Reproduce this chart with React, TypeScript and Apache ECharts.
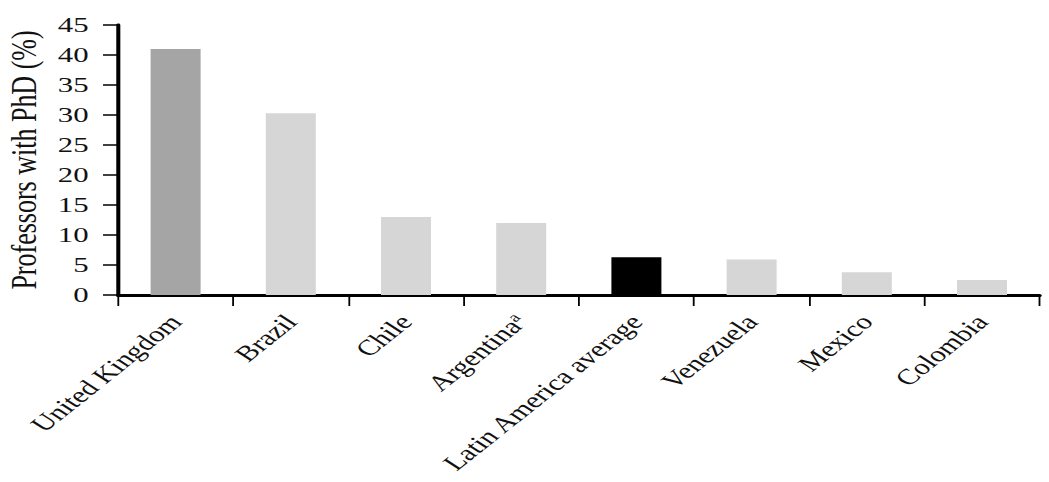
import React, { useEffect, useRef } from "react";
import * as echarts from "echarts";

const categories = [
  "United Kingdom",
  "Brazil",
  "Chile",
  "Argentina{sup|a}",
  "Latin America average",
  "Venezuela",
  "Mexico",
  "Colombia",
];
const values = [41, 30.3, 13, 12, 6.3, 5.9, 3.8, 2.5];
const barColors = ["#a5a5a5", "#d6d6d6", "#d6d6d6", "#d6d6d6", "#000000", "#d6d6d6", "#d6d6d6", "#d6d6d6"];
const yTicks = { min: 0, max: 45, interval: 5 };

const FONT = "Liberation Serif";
// The reference is horizontally stretched; draw at a narrower width and stretch.
const STRETCH = 1.4;
const INNER_W = 1049 / STRETCH;

export default function App() {
  const ref = useRef<HTMLDivElement>(null);
  useEffect(() => {
    document.body.style.margin = "0";
    const chart = echarts.init(ref.current!, null, { renderer: "svg" });
    chart.setOption({
      animation: false,
      backgroundColor: "#ffffff",
      grid: {
        left: 118 / STRETCH,
        right: 9 / STRETCH,
        top: 25,
        bottom: 187,
        containLabel: false,
        outerBoundsMode: "none",
      },
      xAxis: {
        type: "category",
        data: categories,
        boundaryGap: true,
        axisLine: { lineStyle: { color: "#000", width: 3 } },
        axisTick: { show: true, length: 11, lineStyle: { color: "#000", width: 1.3 } },
        axisLabel: {
          rotate: 48,
          interval: 0,
          margin: 23,
          color: "#111",
          fontFamily: FONT,
          fontSize: 22,
          rich: {
            sup: { fontSize: 14, verticalAlign: "top", padding: [0, 0, 9, 0], fontFamily: FONT, color: "#111" },
          },
        },
      },
      yAxis: {
        type: "value",
        min: yTicks.min,
        max: yTicks.max,
        interval: yTicks.interval,
        name: "Professors with PhD (%)",
        nameLocation: "middle",
        nameGap: 54,
        nameRotate: 90,
        nameTextStyle: { fontFamily: FONT, fontSize: 26, color: "#111" },
        axisLine: { show: true, lineStyle: { color: "#000", width: 2.9 } },
        axisTick: { show: true, length: 10.7, lineStyle: { color: "#000", width: 1.5 } },
        splitLine: { show: false },
        axisLabel: { margin: 21, color: "#111", fontFamily: FONT, fontSize: 22 },
      },
      series: [
        {
          type: "bar",
          data: values.map((v, i) => ({ value: v, itemStyle: { color: barColors[i] } })),
          barWidth: 50 / STRETCH,
        },
      ],
    });
    return () => chart.dispose();
  }, []);
  return (
    <div style={{ width: 1049, height: 482, overflow: "hidden" }}>
      <div
        ref={ref}
        style={{
          width: INNER_W,
          height: 482,
          transform: `scaleX(${STRETCH})`,
          transformOrigin: "0 0",
        }}
      />
    </div>
  );
}
